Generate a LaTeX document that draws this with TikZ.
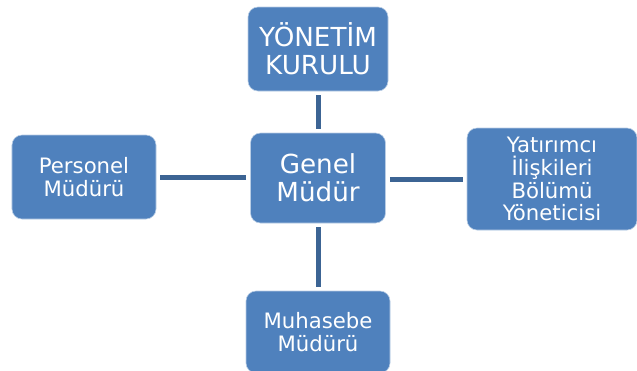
\documentclass[tikz,border=0pt]{standalone}
\usepackage{fontspec}
\setmainfont{DejaVu Sans}
\definecolor{boxblue}{RGB}{79,129,189}
\definecolor{linkblue}{RGB}{60,100,148}

\tikzset{
  unit/.style={rectangle,rounded corners=10bp,fill=boxblue,draw=white!60!boxblue,line width=0.6bp,
    text=white,align=center,inner sep=0pt},
  big/.style={unit,font=\fontsize{26.3}{28.5}\selectfont},
  small/.style={unit,font=\fontsize{21.3}{23}\selectfont},
  link/.style={draw=linkblue,line width=5bp,shorten >=4bp,shorten <=4bp}
}

\begin{document}
\begin{tikzpicture}[x=1bp,y=-1bp]
    \useasboundingbox (0,0) rectangle (637,370);
    \node[big,minimum width=140bp,minimum height=84bp] (board) at (318,49) {YÖNETİM\\KURULU};
    \node[big,minimum width=135bp,minimum height=90bp] (gm) at (318,178) {Genel\\Müdür};
    \node[small,minimum width=144bp,minimum height=84bp] (hr) at (84,177) {Personel\\Müdürü};
    \node[small,minimum width=170bp,minimum height=102bp] (ir) at (552,179) {Yatırımcı\\İlişkileri\\Bölümü\\Yöneticisi};
    \node[small,minimum width=144bp,minimum height=82bp] (acc) at (318,332) {Muhasebe\\Müdürü};
    \draw [link] (board) -- (gm);
    \draw [link] (gm.west |- hr.east) -- (hr.east);
    \draw [link] (gm.east |- ir.west) -- (ir.west);
    \draw [link] (gm) -- (acc);
\end{tikzpicture}
\end{document}
